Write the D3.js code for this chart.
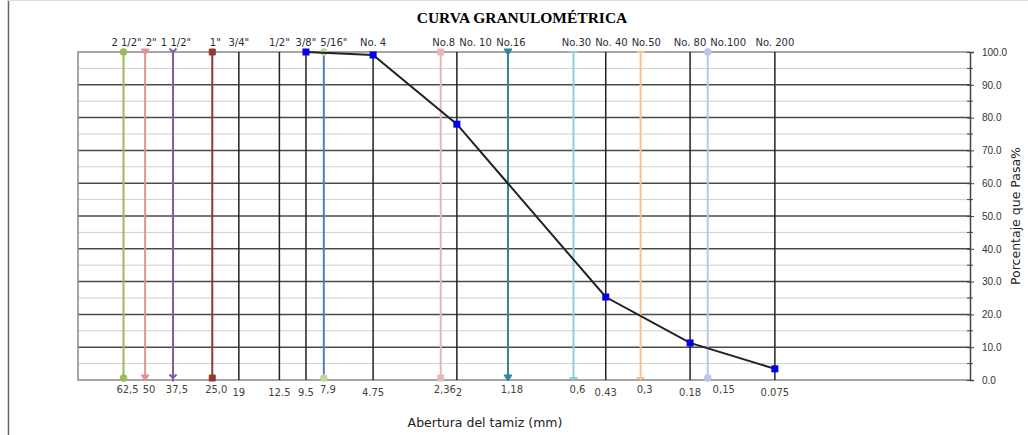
<!DOCTYPE html>
<html>
<head>
<meta charset="utf-8">
<script src="https://cdn.jsdelivr.net/npm/d3@7"></script>
<style>
  body { margin: 0; background: #fff; }
  svg { display: block; font-family: 'DejaVu Sans', Verdana, sans-serif; }
  .title { font-family: 'Liberation Serif', 'Times New Roman', serif; font-weight: bold; font-size: 15.5px; }
  .top-label { font-size: 10px; fill: #2b2b3a; }
  .bottom-label { font-size: 10px; fill: #4a4238; }
  .axis text { font-size: 10px; fill: #333; }
  .axis path, .axis line { stroke: #444; }
</style>
</head>
<body>
<svg id="chart" width="1028" height="435"></svg>
<script>
// sieve openings (mm) and their names
const sieveSizes = [62.5, 50, 37.5, 25, 19, 12.5, 9.5, 7.9, 4.75, 2.362, 2.0, 1.18, 0.6, 0.43, 0.3, 0.18, 0.15, 0.075];
const sieveNames = ['2 1/2"', '2"', '1 1/2"', '1"', '3/4"', '1/2"', '3/8"', '5/16"', 'No. 4', 'No.8', 'No. 10',
  'No.16', 'No.30', 'No. 40', 'No.50', 'No. 80', 'No.100', 'No. 200'];
const sizeLabels = ['62,5', '50', '37,5', '25,0', '19', '12.5', '9.5', '7,9', '4.75', '2,36', '2',
  '1,18', '0,6', '0.43', '0,3', '0.18', '0,15', '0.075'];

// grading curve
const passingSizes = [9.5, 4.75, 2.0, 0.43, 0.18, 0.075];
const passingPct = [100, 99.1, 78.0, 25.3, 11.3, 3.4];

const yTicks = [0, 10, 20, 30, 40, 50, 60, 70, 80, 90, 100];

// colored sieve lines (others are plain black)
const sieveStyle = {
  '2 1/2"': { color: '#9bbb59', symbol: d3.symbolCircle },
  '2"': { color: '#d99694', symbol: 'tri' },
  '1 1/2"': { color: '#7f5fa0', symbol: 'star' },
  '1"': { color: '#953735', symbol: d3.symbolSquare },
  '5/16"': { color: '#4f7fbd', symbol: d3.symbolCircle, mark: '#c3d69b' },
  'No.8': { color: '#e6b9b8', symbol: d3.symbolSquare },
  'No.16': { color: '#31859c', symbol: 'tri' },
  'No.30': { color: '#93cddd', symbol: 'dash' },
  'No.50': { color: '#fac090', symbol: 'dash' },
  'No.100': { color: '#b9c7e5', symbol: d3.symbolCircle }
};

const svg = d3.select('#chart');
const margin = { left: 78, right: 58, top: 52, bottom: 55 };
const width = 1028, height = 435;

const x = d3.scaleLog().domain([100, 0.01]).range([margin.left, width - margin.right]);
const y = d3.scaleLinear().domain([0, 100]).range([height - margin.bottom, margin.top]);

// page borders
svg.append('line').attr('x1', 8.5).attr('x2', 8.5).attr('y1', 0).attr('y2', height)
  .attr('stroke', '#666').attr('stroke-width', 1.5);
svg.append('line').attr('x1', 8).attr('x2', width).attr('y1', 0.5).attr('y2', 0.5)
  .attr('stroke', '#ddd');

svg.append('text').attr('class', 'title')
  .attr('x', 522).attr('y', 23).attr('text-anchor', 'middle')
  .text('CURVA GRANULOMÉTRICA');

// horizontal grid
const minor = d3.range(5, 100, 10);
svg.append('g').selectAll('line').data(minor).join('line')
  .attr('x1', x.range()[0]).attr('x2', x.range()[1])
  .attr('y1', d => y(d)).attr('y2', d => y(d))
  .attr('stroke', '#cfcfcf').attr('stroke-width', 1);
svg.append('g').selectAll('line').data(yTicks.filter(d => d > 0 && d < 100)).join('line')
  .attr('x1', x.range()[0]).attr('x2', x.range()[1])
  .attr('y1', d => y(d)).attr('y2', d => y(d))
  .attr('stroke', '#4a4a4a').attr('stroke-width', 1.5);

// frame
svg.append('path')
  .attr('d', `M${x.range()[1]},${y(100)}H${x.range()[0]}V${y(0)}H${x.range()[1]}`)
  .attr('fill', 'none').attr('stroke', '#888').attr('stroke-width', 1.5);

// sieve lines
const sieves = sieveSizes.map((s, i) => ({ size: s, name: sieveNames[i], label: sizeLabels[i], style: sieveStyle[sieveNames[i]] }));
svg.append('g').selectAll('line').data(sieves).join('line')
  .attr('x1', d => x(d.size)).attr('x2', d => x(d.size))
  .attr('y1', y(100)).attr('y2', y(0))
  .attr('stroke', d => d.style ? d.style.color : '#222')
  .attr('stroke-width', d => d.style ? 2 : 1.5);

function markerPath(sym) {
  if (sym === 'tri') return 'M-4,-3L4,-3L0,3Z';
  if (sym === 'star') return 'M-3.5,-3.5L0,0L3.5,-3.5M0,0V3.5';
  if (sym === 'dash') return 'M-4,0H4';
  return d3.symbol(sym, 36)();
}

const marks = sieves.filter(d => d.style);
[100, 0].forEach(v => {
  svg.append('g').selectAll('path').data(marks).join('path')
    .attr('transform', d => `translate(${x(d.size)},${y(v) + (v === 0 ? -2 : 0)})`)
    .attr('d', d => markerPath(d.style.symbol))
    .attr('fill', d => d.style.symbol === 'star' || d.style.symbol === 'dash' ? 'none' : (d.style.mark || d.style.color))
    .attr('stroke', d => d.style.mark || d.style.color)
    .attr('stroke-width', d => d.style.symbol === 'star' || d.style.symbol === 'dash' ? 2 : 1);
});

// top sieve names, nudged right to avoid overlap
const topLabels = svg.append('g').selectAll('text').data(sieves).join('text')
  .attr('class', 'top-label').attr('y', y(100) - 6).attr('text-anchor', 'middle')
  .attr('x', d => x(d.size)).text(d => d.name);
let lastRight = -Infinity;
topLabels.each(function (d) {
  const w = this.getComputedTextLength();
  let cx = x(d.size) + (d.style ? 3 : 0);
  if (cx - w / 2 < lastRight + 4) cx = lastRight + 4 + w / 2;
  d3.select(this).attr('x', cx);
  lastRight = cx + w / 2;
});

// bottom opening labels ("2,36" and "2" run together as in the original)
svg.append('g').selectAll('text').data(sieves).join('text')
  .attr('class', 'bottom-label')
  .attr('x', d => d.size === 2.0 ? x(d.size) - 1 : x(d.size) + (d.style ? 4 : 0) + (d.size === 0.15 ? 12 : 0))
  .attr('y', d => y(0) + (d.style ? 13 : 16))
  .attr('text-anchor', d => d.size === 2.0 ? 'start' : 'middle')
  .text(d => d.label);

// right axis
const axis = svg.append('g').attr('class', 'axis')
  .attr('transform', `translate(${x.range()[1]},0)`)
  .call(d3.axisRight(y).tickValues(yTicks).tickFormat(d3.format('.1f')).tickSize(4).tickPadding(8));
axis.select('.domain').attr('stroke-width', 1.5);
axis.selectAll('.tick line').attr('x1', -3);
axis.append('g').selectAll('line').data(minor).join('line')
  .attr('x1', -3).attr('x2', 3).attr('y1', d => y(d)).attr('y2', d => y(d))
  .attr('stroke', '#444');

// axis titles
svg.append('text').attr('x', 485).attr('y', 427).attr('text-anchor', 'middle')
  .attr('font-size', 12.5).attr('fill', '#222').text('Abertura del tamiz (mm)');
svg.append('text')
  .attr('transform', `translate(1020,${(y(0) + y(100)) / 2}) rotate(-90)`)
  .attr('text-anchor', 'middle').attr('font-size', 12.5).attr('fill', '#222')
  .text('Porcentaje que Pasa%');

// grading curve
const pts = passingSizes.map((s, i) => [x(s), y(passingPct[i])]);
svg.append('path').attr('d', d3.line()(pts))
  .attr('fill', 'none').attr('stroke', '#222').attr('stroke-width', 2);
svg.append('g').selectAll('rect').data(pts).join('rect')
  .attr('x', d => d[0] - 3.5).attr('y', d => d[1] - 3.5)
  .attr('width', 7).attr('height', 7).attr('fill', '#0000ee');
</script>
</body>
</html>
